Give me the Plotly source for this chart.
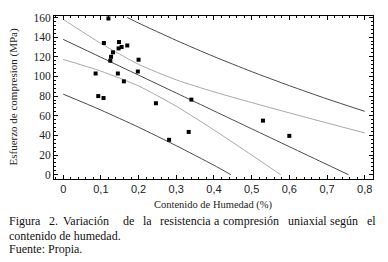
import plotly.graph_objects as go

# Scatter data: moisture content (fraction) vs compressive strength (MPa)
moisture = [0.120, 0.108, 0.148, 0.147, 0.155, 0.170, 0.132, 0.127, 0.125, 0.086, 0.145,
            0.161, 0.200, 0.198, 0.093, 0.107, 0.246, 0.340, 0.333, 0.281, 0.530, 0.600]
strength = [159, 134, 135, 128.5, 130, 131.5, 124.5, 120, 116, 103, 103,
            95, 117, 105, 80, 78, 72.7, 76.4, 43.5, 35.5, 55, 39.5]

# Regression line
fit_x = [0, 0.1, 0.2, 0.3, 0.4, 0.5, 0.6, 0.7, 0.757]
fit_y = [137.7, 119.5, 101.3, 83.1, 64.9, 46.7, 28.5, 10.3, 0]

# Confidence band (light grey)
conf_up_x = [0, 0.1, 0.2, 0.3, 0.4, 0.5, 0.6, 0.7, 0.8]
conf_up_y = [158.1, 133.6, 112.3, 96.5, 84.3, 73.4, 62.9, 52.6, 42.5]
conf_lo_x = [0, 0.1, 0.2, 0.3, 0.4, 0.5, 0.577]
conf_lo_y = [117.3, 105.4, 90.3, 69.7, 45.5, 20.0, 0]

# Prediction band (dark grey)
pred_up_x = [0.17, 0.2, 0.3, 0.4, 0.5, 0.6, 0.7, 0.8]
pred_up_y = [160, 154.3, 136.7, 120.2, 104.9, 90.6, 77.1, 64.5]
pred_lo_x = [0, 0.1, 0.2, 0.3, 0.4, 0.445]
pred_lo_y = [82.0, 65.8, 48.3, 29.5, 9.6, 0]

x_ticks = [0, 0.1, 0.2, 0.3, 0.4, 0.5, 0.6, 0.7, 0.8]
y_ticks = [0, 20, 40, 60, 80, 100, 120, 140, 160]

DARK = "#4a4a4a"
LIGHT = "#a9a9a9"
SERIF = "'Liberation Serif', 'Times New Roman', 'DejaVu Serif', serif"
SANS = "'Liberation Sans', Arial, sans-serif"

fig = go.Figure()
for xs, ys, col in [
    (pred_up_x, pred_up_y, DARK),
    (pred_lo_x, pred_lo_y, DARK),
    (conf_up_x, conf_up_y, LIGHT),
    (conf_lo_x, conf_lo_y, LIGHT),
    (fit_x, fit_y, DARK),
]:
    fig.add_trace(go.Scatter(x=xs, y=ys, mode="lines",
                             line=dict(color=col, width=1, shape="spline", smoothing=0.6),
                             hoverinfo="skip"))

fig.add_trace(go.Scatter(x=moisture, y=strength, mode="markers",
                         marker=dict(symbol="square", size=4, color="black")))

PL, PR, PT, PB = 54, 373, 14, 179
W, H = 388, 262


def px_x(p):
    return (p - PL) / (PR - PL)


def px_y(p):
    return (PB - p) / (PB - PT)


axis_common = dict(
    showgrid=False, zeroline=False, showline=True, linecolor="black", linewidth=1,
    mirror="allticks", ticks="inside", ticklen=4, tickcolor="black", tickwidth=1,
)

fig.update_layout(
    width=W, height=H,
    margin=dict(l=PL, r=W - PR, t=PT, b=H - PB),
    paper_bgcolor="white", plot_bgcolor="white",
    showlegend=False,
    separators=",.",
    xaxis=dict(range=[-0.0244, 0.822], tickvals=x_ticks,
               tickfont=dict(family=SANS, size=11, color="#222"),
               minor=dict(ticks="inside", ticklen=2, dtick=0.02, tick0=0, tickcolor="black"),
               **axis_common),
    yaxis=dict(range=[-4.4, 161.5], tickvals=y_ticks,
               tickfont=dict(family=SERIF, size=11.5, color="#222"),
               minor=dict(ticks="inside", ticklen=2, dtick=4, tick0=0, tickcolor="black"),
               **axis_common),
)

ann = []
ann.append(dict(text="Contenido de Humedad (%)", x=px_x(213), y=px_y(205.5),
                xref="paper", yref="paper", showarrow=False, xanchor="center", yanchor="middle",
                font=dict(family=SERIF, size=10.5, color="#222")))
ann.append(dict(text="Esfuerzo de compresion (MPa)", x=px_x(13), y=px_y(96.5), textangle=-90,
                xref="paper", yref="paper", showarrow=False, xanchor="center", yanchor="middle",
                font=dict(family=SERIF, size=11, color="#222")))

# Caption line 1 (justified in the original: words placed individually)
words = [("Figura", 6.7), ("2.", 46.7), ("Variación", 61), ("de", 120.7), ("la", 141),
         ("resistencia", 158.3), ("a", 212), ("compresión", 221.3), ("uniaxial", 286.3),
         ("según", 328), ("el", 364.7)]
cap_font = dict(family=SERIF, size=12, color="#111")
for w, xp in words:
    ann.append(dict(text=w, x=px_x(xp), y=px_y(222), xref="paper", yref="paper",
                    showarrow=False, xanchor="left", yanchor="middle", font=cap_font))
ann.append(dict(text="contenido de humedad.", x=px_x(6.7), y=px_y(236.5), xref="paper", yref="paper",
                showarrow=False, xanchor="left", yanchor="middle", font=cap_font))
ann.append(dict(text="Fuente: Propia.", x=px_x(6.7), y=px_y(250), xref="paper", yref="paper",
                showarrow=False, xanchor="left", yanchor="middle", font=cap_font))

fig.update_layout(annotations=ann)
fig.write_html("out.html", config={"displayModeBar": False},
               post_script="document.body.style.margin='0';document.body.style.padding='0';")
